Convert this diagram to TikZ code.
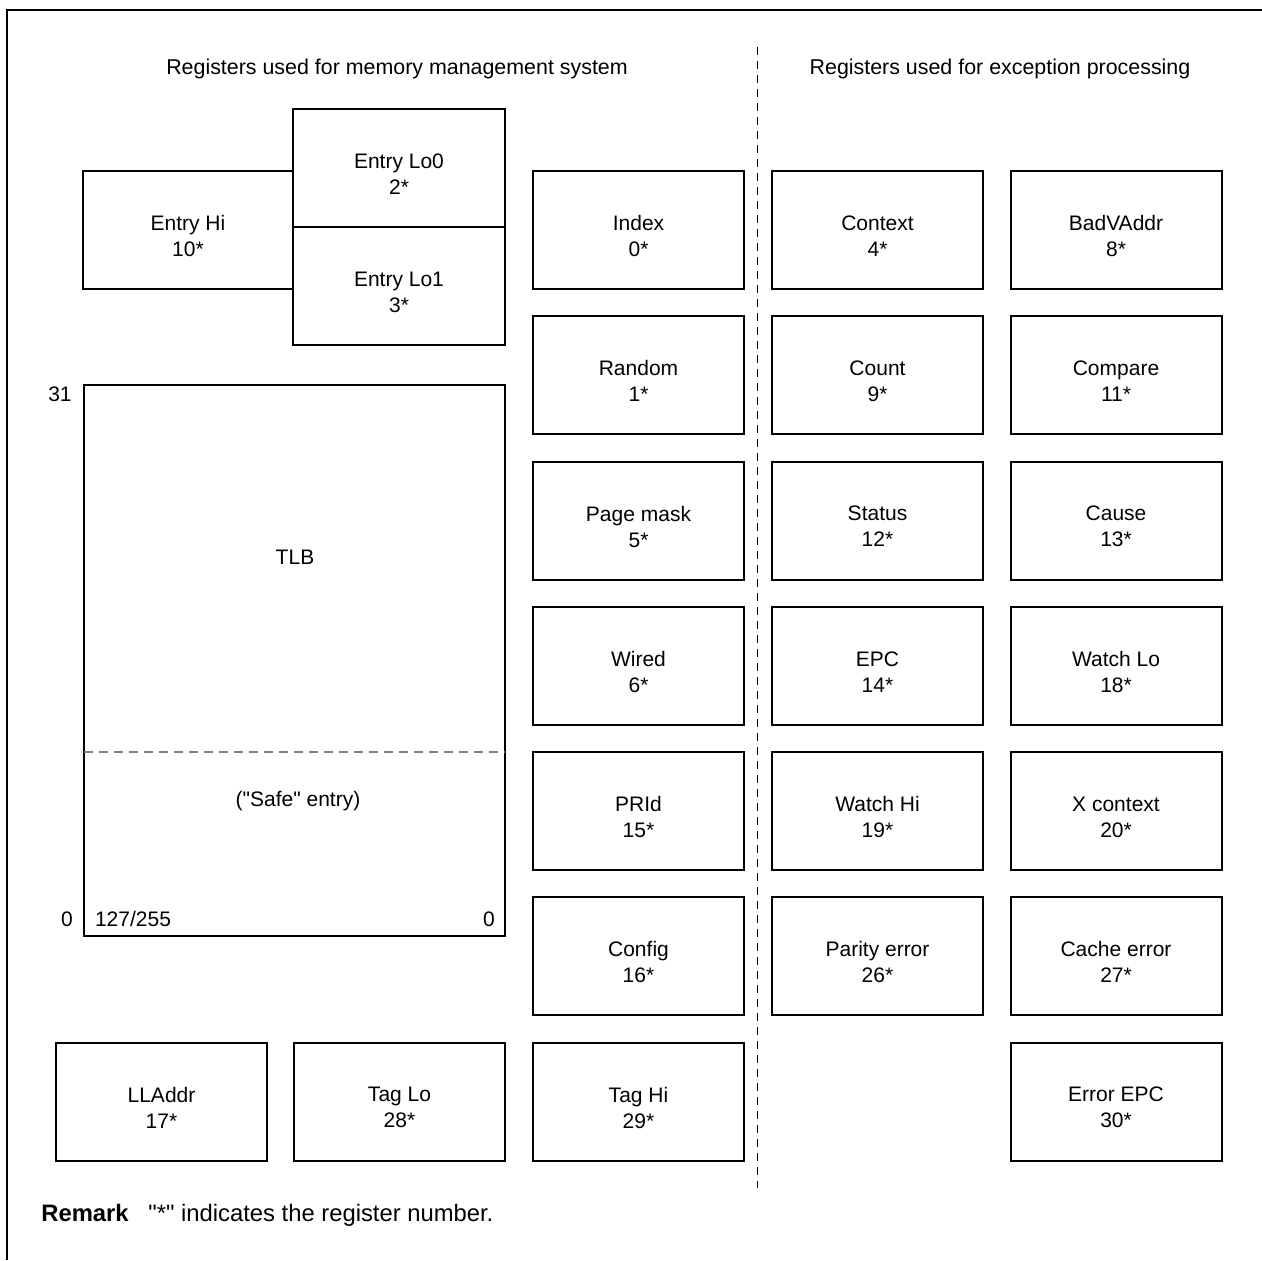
\documentclass[tikz,border=0pt]{standalone}
\usepackage{fontspec}
\setmainfont{Liberation Sans}[Ligatures=TeXOff]
\newcommand\rg[4]{%
  \node[regbox] (#1) at (#2) {};
  \node[lbl] (#1t) at ([yshift=-3pt]#1.center) {#3\\#4};}
\begin{document}
\begin{tikzpicture}[x=0.5pt,y=-0.5pt,
  regbox/.style={draw, line width=1pt, minimum width=105.5pt, minimum height=59pt, inner sep=0pt},
  lbl/.style={align=center, font=\fontsize{10.5}{13}\selectfont, inner sep=0pt},
  txt/.style={font=\fontsize{10.5}{13}\selectfont, inner sep=0pt},
]
\useasboundingbox (0,0) rectangle (1262,1260);

% frame
\coordinate (fbl) at (7,1260);
\coordinate (ftl) at (7,10);
\coordinate (ftr) at (1262,10);
\draw[line width=1pt] (fbl) -- (ftl) -- (ftr);

% titles
\node[txt, anchor=base, font=\fontsize{10.7}{13}\selectfont] (t1) at (397,74.5) {Registers used for memory management system};
\node[txt, anchor=base, font=\fontsize{10.7}{13}\selectfont] (t2) at (1000,74.5) {Registers used for exception processing};

% divider
\coordinate (dtop) at (757.5,47);
\coordinate (dbot) at (757.5,1188);
\draw[line width=0.5pt, dash pattern=on 4pt off 3pt] (dtop) -- (dbot);

% Entry registers
\node[regbox, minimum width=105pt] (ehi) at (188,230) {};
\node[lbl] (ehit) at ([yshift=-3pt]ehi.center) {Entry Hi\\10*};
\node[regbox, minimum width=106pt] (elo0) at (399,168) {};
\node[lbl] (elo0t) at ([yshift=-3pt]elo0.center) {Entry Lo0\\2*};
\node[regbox, minimum width=106pt] (elo1) at (399,286) {};
\node[lbl] (elo1t) at ([yshift=-3pt]elo1.center) {Entry Lo1\\3*};

% TLB
\node[draw, line width=1pt, minimum width=210.5pt, minimum height=275.5pt, inner sep=0pt] (tlb) at (294.5,660.5) {};
\coordinate (sl) at (84,752);
\coordinate (sr) at (505,752);
\draw[line width=0.7pt, gray, dash pattern=on 4.5pt off 3pt] (sl) -- (sr);
\node[txt] (tlbt) at (295,557) {TLB};
\node[txt] (safe) at (298,801) {("Safe" entry)};
\node[txt] (n31) at (60,394) {31};
\node[txt] (n0l) at (67,919) {0};
\node[txt] (n127) at (133,919) {127/255};
\node[txt] (n0r) at (489,919) {0};

% middle column
\rg{idx}{638.5,230}{Index}{0*}
\rg{rnd}{638.5,375.25}{Random}{1*}
\rg{pm}{638.5,520.5}{Page mask}{5*}
\rg{wir}{638.5,665.75}{Wired}{6*}
\rg{prid}{638.5,811}{PRId}{15*}
\rg{cfg}{638.5,956.25}{Config}{16*}
\rg{taghi}{638.5,1101.5}{Tag Hi}{29*}

% bottom left
\rg{lla}{161.5,1101.5}{LLAddr}{17*}
\rg{taglo}{399.5,1101.5}{Tag Lo}{28*}

% right column 1
\rg{ctx}{877.5,230}{Context}{4*}
\rg{cnt}{877.5,375.25}{Count}{9*}
\rg{sta}{877.5,520.5}{Status}{12*}
\rg{epc}{877.5,665.75}{EPC}{14*}
\rg{whi}{877.5,811}{Watch Hi}{19*}
\rg{par}{877.5,956.25}{Parity error}{26*}

% right column 2
\rg{bva}{1116,230}{BadVAddr}{8*}
\rg{cmp}{1116,375.25}{Compare}{11*}
\rg{cau}{1116,520.5}{Cause}{13*}
\rg{wlo}{1116,665.75}{Watch Lo}{18*}
\rg{xctx}{1116,811}{X context}{20*}
\rg{cerr}{1116,956.25}{Cache error}{27*}
\rg{eepc}{1116,1101.5}{Error EPC}{30*}

% remark
\node[anchor=base west, inner sep=0pt, font=\fontsize{11.9}{14}\selectfont\bfseries] (rem) at (41,1221) {Remark};
\node[anchor=base west, inner sep=0pt, font=\fontsize{11.9}{14}\selectfont] (remt) at (148,1221) {"*" indicates the register number.};
\end{tikzpicture}
\end{document}
